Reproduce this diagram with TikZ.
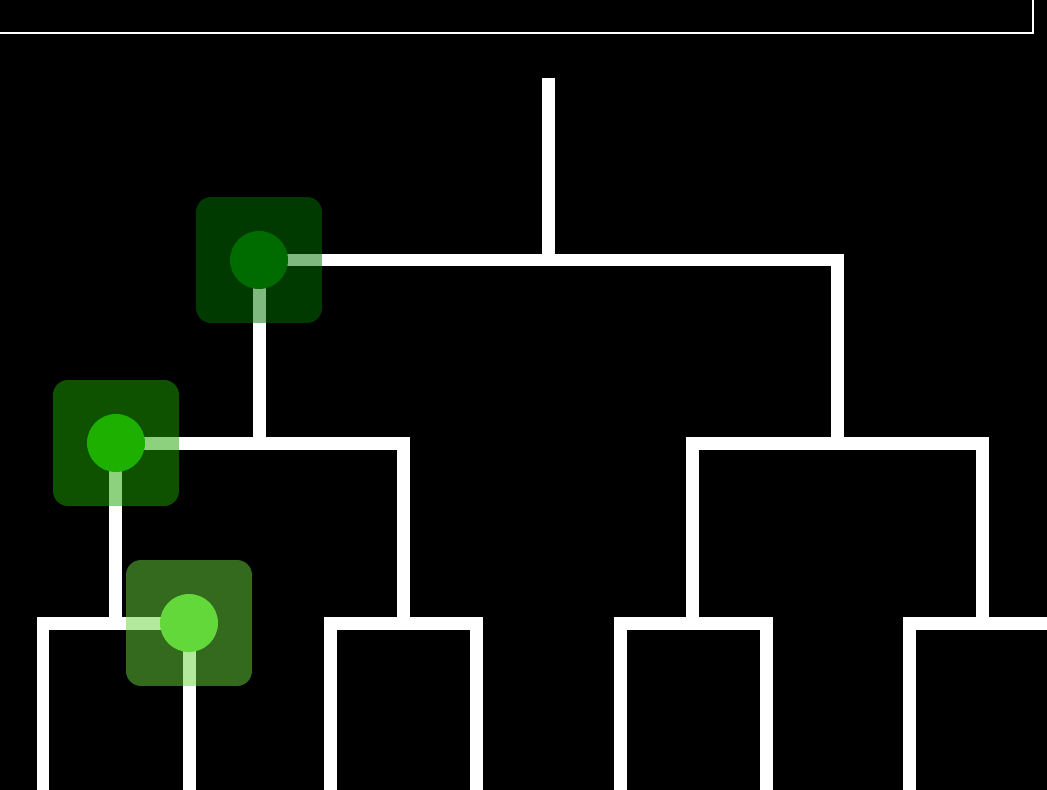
\documentclass[tikz,border=0pt]{standalone}
\usepackage{tikz}
\usetikzlibrary{positioning}
\usepackage{xcolor}
\definecolor{DeepGreen}{RGB}{0,116,0}
\definecolor{DeepDot}{RGB}{0,108,0}
\definecolor{MidGreen}{RGB}{28,164,0}
\definecolor{MidDot}{RGB}{30,176,0}
\definecolor{LightGreen}{RGB}{102,212,60}
\definecolor{LightDot}{RGB}{98,216,58}
\tikzset{
  branch/.style={draw=white, line width=0.26cm, line join=miter},
  frame/.style={draw=white, line width=0.04cm},
  markbox/.style={rectangle, rounded corners=0.3cm, minimum width=2.52cm,
    minimum height=2.52cm, inner sep=0pt, fill opacity=0.5},
  dot/.style={circle, minimum size=1.16cm, inner sep=0pt}
}
\begin{document}
\begin{tikzpicture}[x=0.02cm, y=-0.02cm]
  \useasboundingbox (0,0) rectangle (1047,790);
  \fill[black] (0,0) rectangle (1047,790);
  \clip (0,0) rectangle (1047,790);
  \draw[frame] (-10,-10) rectangle (1033,33);
  % junctions
  \coordinate (top) at (548,78);
  \coordinate (root) at (548,260);
  \coordinate (left) at (259,443);
  \coordinate (right) at (837,443);
  \draw[branch] (top) -- (root);
  \draw[branch] (left) |- (root) -| (right);
  \foreach \c/\h in {259/144, 837/145} {
    \draw[branch] (\c-\h,623) |- (\c,443) -| (\c+\h,623);
  }
  \foreach \c in {116, 403, 693, 982} {
    \draw[branch] (\c-73,800) |- (\c,623) -| (\c+73,800);
  }
  % highlighted path
  \node[markbox, fill=DeepGreen] (markA) at (259,260) {};
  \node[dot, fill=DeepDot] (dotA) at (markA) {};
  \node[markbox, fill=MidGreen] (markB) at (116,443) {};
  \node[dot, fill=MidDot] (dotB) at (markB) {};
  \node[markbox, fill=LightGreen] (markC) at (189,623) {};
  \node[dot, fill=LightDot] (dotC) at (markC) {};
\end{tikzpicture}
\end{document}
